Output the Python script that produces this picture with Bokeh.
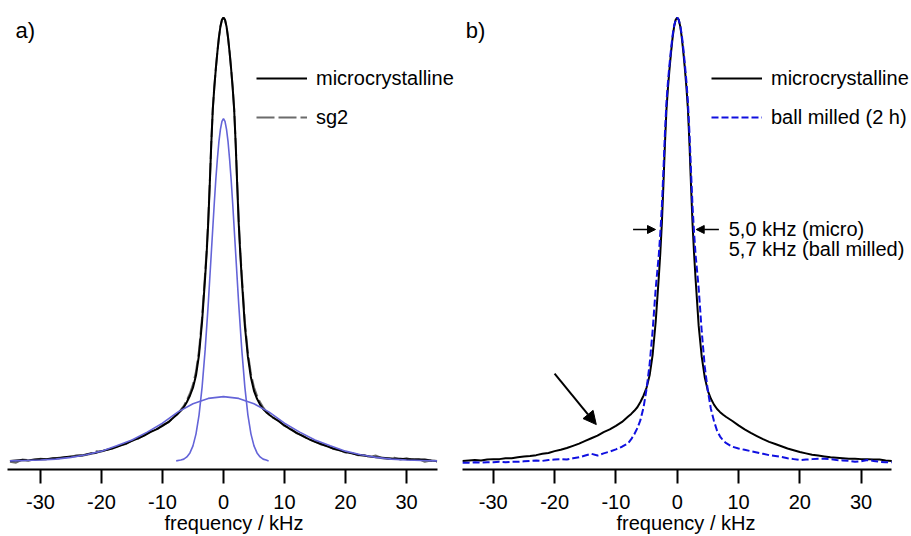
from bokeh.plotting import figure
from bokeh.models import Range1d, Legend, LegendItem, Arrow, NormalHead, FixedTicker, Label
from bokeh.layouts import row
from bokeh.embed import file_html
from bokeh.resources import INLINE

FONT = "Liberation Sans"

# ---------------- data ----------------
tick_values = [-30, -20, -10, 0, 10, 20, 30]
tick_labels = ["-30", "-20", "-10", "0", "10", "20", "30"]

freq_khz = [-35, -34, -33, -32, -31, -30, -29, -28, -27, -26, -25, -24, -23, -22, -21,
            -20, -19, -18, -17, -16, -15, -14, -13, -12, -11, -10, -9, -8,
            -7.5, -7, -6.5, -6, -5.5, -5, -4.5, -4, -3.5, -3,
            -2.75, -2.5, -2.25, -2, -1.75, -1.5, -1.25, -1, -0.75, -0.5, -0.25,
            0,
            0.25, 0.5, 0.75, 1, 1.25, 1.5, 1.75, 2, 2.25, 2.5, 2.75,
            3, 3.5, 4, 4.5, 5, 5.5, 6, 6.5, 7, 7.5,
            8, 9, 10, 11, 12, 13, 14, 15, 16, 17, 18, 19, 20, 21, 22, 23, 24, 25,
            26, 27, 28, 29, 30, 31, 32, 33, 34, 35]

microcrystalline = [0.000, 0.001, 0.002, 0.001, 0.003, 0.004, 0.004, 0.006, 0.006, 0.008,
                    0.010, 0.011, 0.013, 0.016, 0.018, 0.022, 0.025, 0.029, 0.034, 0.039,
                    0.045, 0.051, 0.057, 0.065, 0.071, 0.079, 0.088, 0.100,
                    0.106, 0.113, 0.121, 0.133, 0.147, 0.165, 0.193, 0.240, 0.315, 0.415,
                    0.470, 0.537, 0.622, 0.715, 0.793, 0.843, 0.885, 0.922, 0.955, 0.980, 0.995,
                    1.000,
                    0.995, 0.980, 0.955, 0.922, 0.885, 0.843, 0.793, 0.715, 0.622, 0.535, 0.468,
                    0.410, 0.305, 0.235, 0.188, 0.158, 0.140, 0.127, 0.117, 0.110, 0.104,
                    0.099, 0.090, 0.080, 0.071, 0.063, 0.056, 0.049, 0.043, 0.038, 0.033,
                    0.028, 0.024, 0.020, 0.017, 0.014, 0.012, 0.010, 0.008, 0.007, 0.006,
                    0.005, 0.005, 0.004, 0.004, 0.003, 0.003, 0.001, 0.000]

sg2 = [-0.002, -0.004, 0.003, 0.002, 0.002, 0.005, 0.004, 0.005, 0.007, 0.008,
       0.009, 0.013, 0.012, 0.015, 0.022, 0.021, 0.026, 0.029, 0.035, 0.038,
       0.046, 0.050, 0.058, 0.066, 0.070, 0.081, 0.087, 0.101,
       0.107, 0.115, 0.124, 0.137, 0.152, 0.172, 0.202, 0.250, 0.325, 0.425,
       0.478, 0.545, 0.628, 0.718, 0.795, 0.844, 0.886, 0.923, 0.955, 0.980, 0.995,
       1.000,
       0.995, 0.980, 0.955, 0.923, 0.886, 0.844, 0.795, 0.718, 0.628, 0.543, 0.476,
       0.420, 0.315, 0.244, 0.196, 0.166, 0.147, 0.132, 0.121, 0.112, 0.105,
       0.098, 0.091, 0.079, 0.073, 0.062, 0.057, 0.048, 0.044, 0.037, 0.034,
       0.027, 0.025, 0.019, 0.018, 0.013, 0.013, 0.009, 0.012, 0.006, 0.004,
       0.007, 0.003, 0.006, 0.002, 0.004, -0.002, 0.001, -0.002]

ball_milled = [-0.004, -0.004, -0.003, -0.004, -0.003, -0.003, -0.002, -0.003, -0.002, -0.002,
               -0.001, 0.000, 0.001, 0.000, 0.002, 0.003, 0.004, 0.003, 0.006, 0.008,
               0.012, 0.016, 0.012, 0.017, 0.021, 0.026, 0.032, 0.040,
               0.049, 0.060, 0.074, 0.092, 0.120, 0.162, 0.218, 0.295, 0.390, 0.465,
               0.515, 0.575, 0.655, 0.740, 0.810, 0.857, 0.895, 0.930, 0.960, 0.982, 0.995,
               1.000,
               0.995, 0.982, 0.960, 0.930, 0.895, 0.857, 0.810, 0.740, 0.655, 0.575, 0.515,
               0.465, 0.390, 0.292, 0.212, 0.158, 0.117, 0.090, 0.068, 0.055, 0.046,
               0.040, 0.032, 0.028, 0.025, 0.022, 0.019, 0.016, 0.013, 0.011, 0.009,
               0.006, 0.004, 0.002, 0.003, 0.004, 0.005, 0.005, 0.004, 0.002, 0.001,
               0.000, -0.002, -0.001, 0.002, 0.000, -0.002, -0.003, -0.003]

narrow_freq = [-7.75, -7, -6.5, -6, -5.5, -5, -4.5, -4, -3.5, -3, -2.5, -2, -1.5, -1.25, -1,
               -0.75, -0.5, -0.25, 0, 0.25, 0.5, 0.75, 1, 1.25, 1.5, 2, 2.5, 3, 3.5, 4,
               4.5, 5, 5.5, 6, 6.5, 7, 7.4]
narrow_component = [0.000, 0.002, 0.004, 0.009, 0.018, 0.034, 0.061, 0.104, 0.167, 0.251,
                    0.353, 0.468, 0.583, 0.636, 0.681, 0.720, 0.748, 0.766, 0.772, 0.766,
                    0.748, 0.720, 0.681, 0.636, 0.583, 0.468, 0.353, 0.251, 0.167, 0.104,
                    0.061, 0.034, 0.018, 0.009, 0.004, 0.002, 0.000]

broad_freq = [-35, -32.5, -30, -27.5, -25, -22.5, -20, -17.5, -15, -12.5, -10, -7.5, -5, -2.5, 0,
              2.5, 5, 7.5, 10, 12.5, 15, 17.5, 20, 22.5, 25, 27.5, 30, 32.5, 35]
broad_component = [0.000, 0.001, 0.002, 0.004, 0.008, 0.014, 0.022, 0.034, 0.047, 0.065,
                   0.085, 0.110, 0.129, 0.141, 0.145, 0.141, 0.129, 0.110, 0.085, 0.065,
                   0.047, 0.034, 0.022, 0.014, 0.008, 0.004, 0.002, 0.001, 0.000]

fwhm_text = ["5,0 kHz (micro)", "5,7 kHz (ball milled)"]

# ---------------- figures ----------------
H = 536
Y_RANGE = (-0.0194, 1.0205)


def make_fig(width, left_border, xr, bounds):
    p = figure(width=width, height=H, output_backend="svg", toolbar_location=None,
               x_range=Range1d(*xr), y_range=Range1d(*Y_RANGE),
               y_axis_location=None,
               min_border_left=left_border, min_border_right=0, min_border_top=8,
               min_border_bottom=0)
    p.grid.visible = False
    p.outline_line_color = None
    ax = p.xaxis[0]
    ax.bounds = bounds
    ax.ticker = FixedTicker(ticks=tick_values)
    ax.major_label_overrides = dict(zip(tick_values, tick_labels))
    ax.axis_line_width = 2
    ax.axis_line_color = "black"
    ax.major_tick_line_width = 2
    ax.major_tick_line_color = "black"
    ax.major_tick_out = 14
    ax.major_tick_in = 0
    ax.minor_tick_line_color = None
    ax.major_label_text_font = FONT
    ax.major_label_text_font_size = "20px"
    ax.major_label_text_color = "black"
    ax.major_label_standoff = 11
    ax.axis_label = "frequency / kHz"
    ax.axis_label_text_font = FONT
    ax.axis_label_text_font_size = "20px"
    ax.axis_label_text_font_style = "normal"
    ax.axis_label_text_color = "black"
    ax.axis_label_standoff = 0
    return p


def make_legend(items, loc):
    return Legend(items=items, location=loc, padding=0, margin=0, spacing=15,
                  glyph_width=51, glyph_height=24, label_height=24, label_standoff=9,
                  label_text_font=FONT, label_text_font_size="20px",
                  label_text_color="black",
                  border_line_color=None, background_fill_alpha=0)


# panel a
pa = make_fig(460, 7, (-35.4, 38.85), (-35.4, 35.1))
r_sg2 = pa.line(freq_khz, sg2, line_color="#6b6b6b", line_width=2, line_dash="18 4")
r_mic_a = pa.line(freq_khz, microcrystalline, line_color="black", line_width=2)
pa.line(broad_freq, broad_component, line_color="#6464d8", line_width=1.6)
pa.line(narrow_freq, narrow_component, line_color="#6464d8", line_width=1.6)
pa.add_layout(make_legend([LegendItem(label="microcrystalline", renderers=[r_mic_a]),
                           LegendItem(label="sg2", renderers=[r_sg2])], (249, 340)))
pa.add_layout(Label(x=-34.1, y=0.972, text="a)", text_font=FONT, text_font_size="22px",
                    text_baseline="middle", text_color="black"))

# panel b
pb = make_fig(451, 0, (-35.35, 38.22), (-35, 35))
r_mic_b = pb.line(freq_khz, microcrystalline, line_color="black", line_width=2)
r_bm = pb.line(freq_khz, ball_milled, line_color="#1010e0", line_width=2, line_dash="7 3")
pb.add_layout(make_legend([LegendItem(label="microcrystalline", renderers=[r_mic_b]),
                           LegendItem(label="ball milled (2 h)", renderers=[r_bm])], (251, 340)))
pb.add_layout(Label(x=-34.5, y=0.972, text="b)", text_font=FONT, text_font_size="22px",
                    text_baseline="middle", text_color="black"))
pb.add_layout(Arrow(end=NormalHead(size=13, fill_color="black", line_color="black"),
                    x_start=-20.0, y_start=0.197, x_end=-13.2, y_end=0.082,
                    line_width=2, line_color="black"))
pb.add_layout(Arrow(end=NormalHead(size=8, fill_color="black", line_color="black"),
                    x_start=-7.2, y_start=0.522, x_end=-3.54, y_end=0.522,
                    line_width=1.5, line_color="black"))
pb.add_layout(Arrow(end=NormalHead(size=8, fill_color="black", line_color="black"),
                    x_start=6.8, y_start=0.522, x_end=3.1, y_end=0.522,
                    line_width=1.5, line_color="black"))
pb.add_layout(Label(x=8.4, y=0.522, text=fwhm_text[0], text_font=FONT, text_font_size="20px",
                    text_baseline="middle", text_color="black"))
pb.add_layout(Label(x=8.4, y=0.478, text=fwhm_text[1], text_font=FONT, text_font_size="20px",
                    text_baseline="middle", text_color="black"))

layout = row(pa, pb)
open("out.html", "w").write(file_html(layout, INLINE))
